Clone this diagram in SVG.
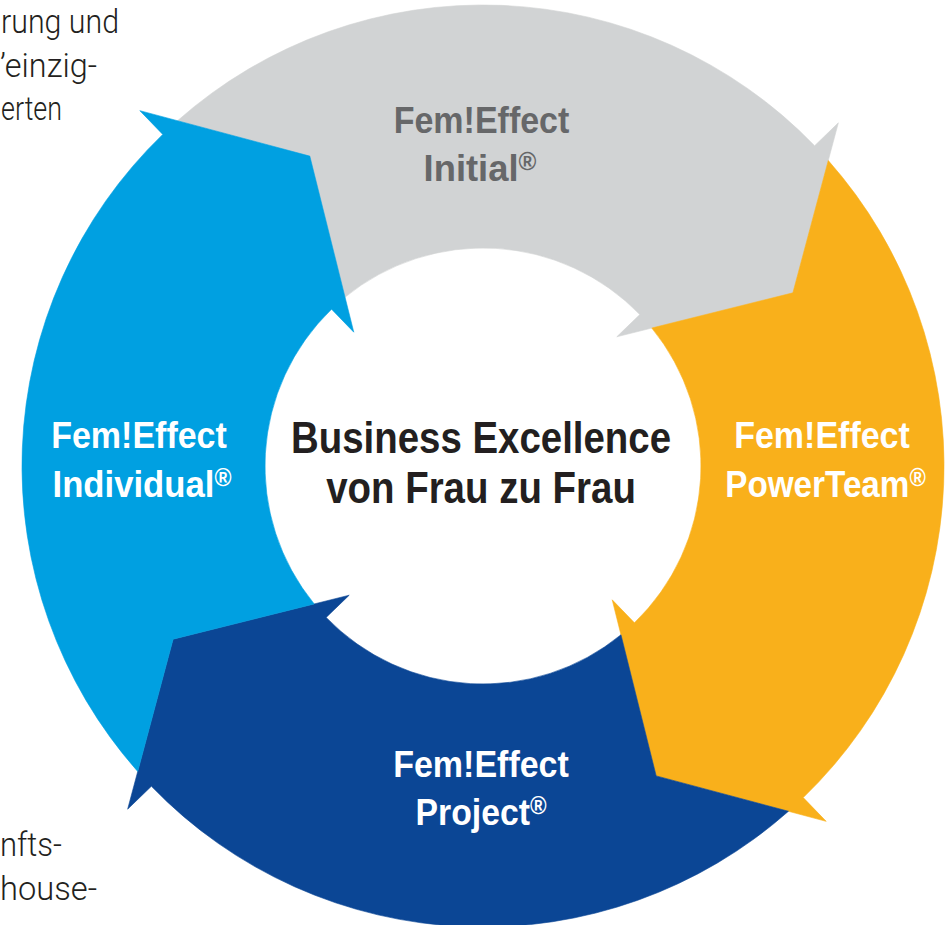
<svg xmlns="http://www.w3.org/2000/svg" xmlns:xlink="http://www.w3.org/1999/xlink" width="950" height="925" viewBox="0 0 950 925">
  <style>
    .lbl { font-family: "Liberation Sans", Arial, sans-serif; font-weight: bold; font-size: 37.5px; text-anchor: middle; }
    .w { fill: #FFFFFF; }
    .g { fill: #666769; }
    .ctr { font-family: "Liberation Sans", Arial, sans-serif; font-weight: bold; font-size: 44px; text-anchor: middle; fill: #231F20; }
    .side { font-family: Roboto, "Liberation Sans", Arial, sans-serif; font-weight: 300; font-size: 33px; fill: #231F20; }
    .reg { font-size: 25px; }
    .a-gray { fill: #D1D3D4; stroke: #D1D3D4; stroke-width: 0.6; }
    .a-orange { fill: #F9B01B; stroke: #F9B01B; stroke-width: 0.6; }
    .a-navy { fill: #0B4695; stroke: #0B4695; stroke-width: 0.6; }
    .a-blue { fill: #00A0E1; stroke: #00A0E1; stroke-width: 0.6; }
  </style>
  <defs>
    <path id="arrow" d="M177.53,120.73 A461,461 0 0,1 814.62,145.76 L838.35,122.84 L792.89,292.81 L616.80,336.79 L639.82,314.56 A218,218 0 0,0 345.04,297.21 L309.81,156.11 Z"/>
  </defs>
  <rect width="950" height="925" fill="#FFFFFF"/>

  <g id="side-text">
    <text class="side" x="1" y="33" textLength="118" lengthAdjust="spacingAndGlyphs">rung und</text>
    <text class="side" x="0" y="76.5" textLength="97" lengthAdjust="spacingAndGlyphs">’einzig-</text>
    <text class="side" x="1" y="119.5" textLength="61" lengthAdjust="spacingAndGlyphs">erten</text>
    <text class="side" x="0" y="855.5" textLength="62" lengthAdjust="spacingAndGlyphs">nfts-</text>
    <text class="side" x="0" y="899.5" textLength="97" lengthAdjust="spacingAndGlyphs">house-</text>
  </g>

  <g id="node-initial">
    <use xlink:href="#arrow" href="#arrow" class="a-gray"/>
    <text class="lbl g" transform="translate(481.5,133) scale(0.907,1)">Fem!Effect</text>
    <text class="lbl g" transform="translate(480,181) scale(0.97,1)">Initial<tspan class="reg" dy="-11">®</tspan></text>
  </g>

  <g id="node-powerteam">
    <use xlink:href="#arrow" href="#arrow" class="a-orange" transform="rotate(90 483 466)"/>
    <text class="lbl w" transform="translate(822,448) scale(0.907,1)">Fem!Effect</text>
    <text class="lbl w" transform="translate(825.5,497) scale(0.887,1)">PowerTeam<tspan class="reg" dy="-11">®</tspan></text>
  </g>

  <g id="node-project">
    <use xlink:href="#arrow" href="#arrow" class="a-navy" transform="rotate(180 483 466)"/>
    <text class="lbl w" transform="translate(481,777) scale(0.907,1)">Fem!Effect</text>
    <text class="lbl w" transform="translate(481,825) scale(0.90,1)">Project<tspan class="reg" dy="-11">®</tspan></text>
  </g>

  <g id="node-individual">
    <use xlink:href="#arrow" href="#arrow" class="a-blue" transform="rotate(270 483 466)"/>
    <text class="lbl w" transform="translate(139,448) scale(0.907,1)">Fem!Effect</text>
    <text class="lbl w" transform="translate(142,497) scale(0.925,1)">Individual<tspan class="reg" dy="-11">®</tspan></text>
  </g>

  <g id="center">
    <text class="ctr" transform="translate(481,453) scale(0.873,1)">Business Excellence</text>
    <text class="ctr" transform="translate(481,503) scale(0.874,1)">von Frau zu Frau</text>
  </g>

  <g id="connectors"></g>
</svg>
